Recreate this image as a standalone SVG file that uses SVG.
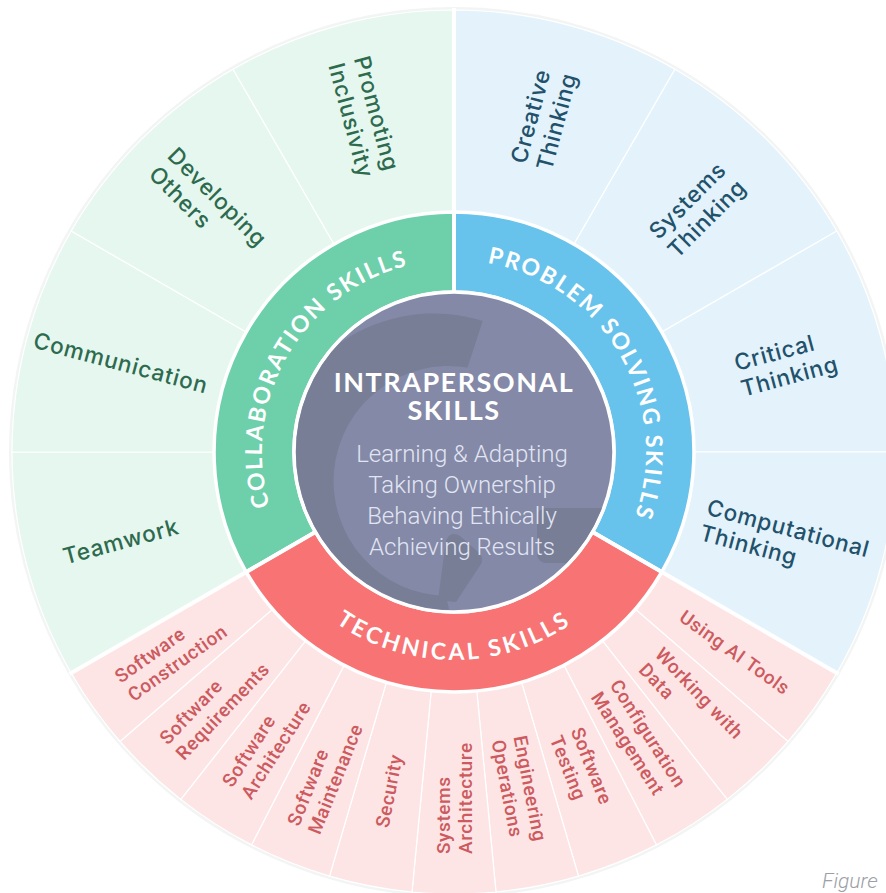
<svg xmlns="http://www.w3.org/2000/svg" width="886" height="893" viewBox="0 0 886 893">
  <style>
    .seg { stroke: #ffffff; stroke-width: 1.2; }
    .seg-g { fill: #e6f7ef; }
    .seg-b { fill: #e4f3fb; }
    .seg-r { fill: #fde5e6; }
    .ring { stroke: #ffffff; stroke-width: 3.5; }
    .ring-g { fill: #6ecfab; }
    .ring-b { fill: #68c3ec; }
    .ring-r { fill: #f87474; }
    .lbl { font-family: Inter, "Open Sans", sans-serif; font-weight: 500; font-size: 22.5px; letter-spacing: 0.8px; }
    .lbl-g { fill: #2d6a4e; }
    .lbl-b { fill: #22516b; }
    .lbl-r { font-family: Roboto, "Liberation Sans", sans-serif; font-weight: 500; font-size: 19px; letter-spacing: 0.6px; fill: #cc5a5e; }
    .ringtxt { font-family: Lato, "Liberation Sans", sans-serif; font-weight: 700; font-size: 23px; letter-spacing: 2px; fill: #ffffff; }
    .ringtxt-wide { letter-spacing: 3px; }
    .title { font-family: Lato, "Liberation Sans", sans-serif; font-weight: 700; font-size: 27px; letter-spacing: 1.5px; fill: #ffffff; }
    .list { font-family: Roboto, "Liberation Sans", sans-serif; font-weight: 300; font-size: 24px; fill: #e2e5f4; }
    .divider { stroke: #ffffff; stroke-width: 4; }
  </style>
  <defs>
    <path id="arc-collab" d="M 287.7 548 A 192 192 0 0 1 454 260"/>
    <path id="arc-problem" d="M 454 260 A 192 192 0 0 1 620.3 548"/>
    <path id="arc-tech" d="M 273.9 556 A 208 208 0 0 0 634.1 556"/>
    <clipPath id="core-clip"><circle cx="454" cy="452" r="158"/></clipPath>
  </defs>

  <rect width="886" height="893" fill="#ffffff"/>
  <circle cx="454" cy="452" r="443.5" fill="none" stroke="#f3f5f4" stroke-width="3"/>

  <!-- outer ring: collaboration skills -->
  <g id="teamwork">
    <path class="seg seg-g" d="M 71.2 673 A 442 442 0 0 1 12 452 L 215 452 A 239 239 0 0 0 247 571.5 Z"/>
    <g transform="translate(120.8 541.3) rotate(-15)"><text class="lbl lbl-g" text-anchor="middle" y="8">Teamwork</text></g>
  </g>
  <g id="communication">
    <path class="seg seg-g" d="M 12 452 A 442 442 0 0 1 71.2 231 L 247 332.5 A 239 239 0 0 0 215 452 Z"/>
    <g transform="translate(120.8 362.7) rotate(15)"><text class="lbl lbl-g" text-anchor="middle" y="8">Communication</text></g>
  </g>
  <g id="developing-others">
    <path class="seg seg-g" d="M 71.2 231 A 442 442 0 0 1 233 69.2 L 334.5 245 A 239 239 0 0 0 247 332.5 Z"/>
    <g transform="translate(210 208) rotate(45)" class="lbl lbl-g"><text x="-67" y="-5">Developing</text><text x="-67" y="21.5">Others</text></g>
  </g>
  <g id="promoting-inclusivity">
    <path class="seg seg-g" d="M 233 69.2 A 442 442 0 0 1 454 10 L 454 213 A 239 239 0 0 0 334.5 245 Z"/>
    <g transform="translate(364.7 118.8) rotate(75)" class="lbl lbl-g"><text x="-61" y="-5">Promoting</text><text x="-61" y="21.5">Inclusivity</text></g>
  </g>

  <!-- outer ring: problem solving skills -->
  <g id="creative-thinking">
    <path class="seg seg-b" d="M 454 10 A 442 442 0 0 1 675 69.2 L 573.5 245 A 239 239 0 0 0 454 213 Z"/>
    <g transform="translate(543.3 118.8) rotate(-75)" class="lbl lbl-b"><text x="-49" y="-5">Creative</text><text x="-49" y="21.5">Thinking</text></g>
  </g>
  <g id="systems-thinking">
    <path class="seg seg-b" d="M 675 69.2 A 442 442 0 0 1 836.8 231 L 661 332.5 A 239 239 0 0 0 573.5 245 Z"/>
    <g transform="translate(698 208) rotate(-45)" class="lbl lbl-b"><text x="-51" y="-5">Systems</text><text x="-51" y="21.5">Thinking</text></g>
  </g>
  <g id="critical-thinking">
    <path class="seg seg-b" d="M 836.8 231 A 442 442 0 0 1 896 452 L 693 452 A 239 239 0 0 0 661 332.5 Z"/>
    <g transform="translate(787.2 362.7) rotate(-15)" class="lbl lbl-b"><text x="-51" y="-5">Critical</text><text x="-51" y="21.5">Thinking</text></g>
  </g>
  <g id="computational-thinking">
    <path class="seg seg-b" d="M 896 452 A 442 442 0 0 1 836.8 673 L 661 571.5 A 239 239 0 0 0 693 452 Z"/>
    <g transform="translate(787.2 541.3) rotate(15)" class="lbl lbl-b"><text x="-86" y="-5">Computational</text><text x="-86" y="21.5">Thinking</text></g>
  </g>

  <!-- outer ring: technical skills -->
  <g id="using-ai-tools">
    <path class="seg seg-r" d="M 836.8 673 A 442 442 0 0 1 788 741.5 L 634.6 608.5 A 239 239 0 0 0 661 571.5 Z"/>
    <g transform="translate(735 652.1) rotate(35.455)"><text class="lbl-r" text-anchor="middle" y="7">Using AI Tools</text></g>
  </g>
  <g id="working-with-data">
    <path class="seg seg-r" d="M 788 741.5 A 442 442 0 0 1 727.2 799.4 L 601.7 639.9 A 239 239 0 0 0 634.6 608.5 Z"/>
    <g transform="translate(692.1 701.7) rotate(46.364)" class="lbl-r"><text x="-60" y="-4.5">Working with</text><text x="-60" y="18">Data</text></g>
  </g>
  <g id="configuration-management">
    <path class="seg seg-r" d="M 727.2 799.4 A 442 442 0 0 1 656.5 844.9 L 563.5 664.4 A 239 239 0 0 0 601.7 639.9 Z"/>
    <g transform="translate(640.5 742.2) rotate(57.273)" class="lbl-r"><text x="-65" y="-4.5">Configuration</text><text x="-65" y="18">Management</text></g>
  </g>
  <g id="software-testing">
    <path class="seg seg-r" d="M 656.5 844.9 A 442 442 0 0 1 578.5 876.1 L 521.3 681.3 A 239 239 0 0 0 563.5 664.4 Z"/>
    <g transform="translate(582.2 772.3) rotate(68.182)" class="lbl-r"><text x="-43" y="-4.5">Software</text><text x="-43" y="18">Testing</text></g>
  </g>
  <g id="engineering-operations">
    <path class="seg seg-r" d="M 578.5 876.1 A 442 442 0 0 1 496 892 L 476.7 689.9 A 239 239 0 0 0 521.3 681.3 Z"/>
    <g transform="translate(519.3 790.8) rotate(79.091)" class="lbl-r"><text x="-54" y="-4.5">Engineering</text><text x="-54" y="18">Operations</text></g>
  </g>
  <g id="systems-architecture">
    <path class="seg seg-r" d="M 496 892 A 442 442 0 0 1 412 892 L 431.3 689.9 A 239 239 0 0 0 476.7 689.9 Z"/>
    <g transform="translate(454 797) rotate(-90)" class="lbl-r"><text x="-57" y="-4.5">Systems</text><text x="-57" y="18">Architecture</text></g>
  </g>
  <g id="security">
    <path class="seg seg-r" d="M 412 892 A 442 442 0 0 1 329.5 876.1 L 386.7 681.3 A 239 239 0 0 0 431.3 689.9 Z"/>
    <g transform="translate(388.7 790.8) rotate(-79.091)"><text class="lbl-r" text-anchor="middle" y="7">Security</text></g>
  </g>
  <g id="software-maintenance">
    <path class="seg seg-r" d="M 329.5 876.1 A 442 442 0 0 1 251.5 844.9 L 344.5 664.4 A 239 239 0 0 0 386.7 681.3 Z"/>
    <g transform="translate(325.8 772.3) rotate(-68.182)" class="lbl-r"><text x="-61" y="-4.5">Software</text><text x="-61" y="18">Maintenance</text></g>
  </g>
  <g id="software-architecture">
    <path class="seg seg-r" d="M 251.5 844.9 A 442 442 0 0 1 180.8 799.4 L 306.3 639.9 A 239 239 0 0 0 344.5 664.4 Z"/>
    <g transform="translate(267.5 742.2) rotate(-57.273)" class="lbl-r"><text x="-58" y="-4.5">Software</text><text x="-58" y="18">Architecture</text></g>
  </g>
  <g id="software-requirements">
    <path class="seg seg-r" d="M 180.8 799.4 A 442 442 0 0 1 120 741.5 L 273.4 608.5 A 239 239 0 0 0 306.3 639.9 Z"/>
    <g transform="translate(215.9 701.7) rotate(-46.364)" class="lbl-r"><text x="-65" y="-4.5">Software</text><text x="-65" y="18">Requirements</text></g>
  </g>
  <g id="software-construction">
    <path class="seg seg-r" d="M 120 741.5 A 442 442 0 0 1 71.2 673 L 247 571.5 A 239 239 0 0 0 273.4 608.5 Z"/>
    <g transform="translate(173 652.1) rotate(-35.455)" class="lbl-r"><text x="-61" y="-4.5">Software</text><text x="-61" y="18">Construction</text></g>
  </g>

  <!-- middle ring: skill groups -->
  <g id="collaboration-skills">
    <path class="ring ring-g" d="M 246.2 572 A 240 240 0 0 1 454 212 L 454 292 A 160 160 0 0 0 315.4 532 Z"/>
    <text class="ringtxt"><textPath href="#arc-collab" startOffset="50%" text-anchor="middle">COLLABORATION SKILLS</textPath></text>
  </g>
  <g id="problem-solving-skills">
    <path class="ring ring-b" d="M 454 212 A 240 240 0 0 1 661.8 572 L 592.6 532 A 160 160 0 0 0 454 292 Z"/>
    <text class="ringtxt"><textPath href="#arc-problem" startOffset="50%" text-anchor="middle">PROBLEM SOLVING SKILLS</textPath></text>
  </g>
  <g id="technical-skills">
    <path class="ring ring-r" d="M 661.8 572 A 240 240 0 0 1 246.2 572 L 315.4 532 A 160 160 0 0 0 592.6 532 Z"/>
    <text class="ringtxt ringtxt-wide"><textPath href="#arc-tech" startOffset="50%" text-anchor="middle">TECHNICAL SKILLS</textPath></text>
  </g>

  <!-- group separators -->
  <g id="dividers">
    <line class="divider" x1="454" y1="294" x2="454" y2="8"/>
    <line class="divider" x1="590.8" y1="531" x2="838.5" y2="674"/>
    <line class="divider" x1="317.2" y1="531" x2="69.5" y2="674"/>
  </g>

  <!-- core: intrapersonal skills, with a faint logo mark behind the text -->
  <g id="intrapersonal-skills">
    <circle cx="454" cy="452" r="160" fill="#8389a6" stroke="#ffffff" stroke-width="3.5"/>
    <g clip-path="url(#core-clip)" fill="#777e95">
      <path d="M 482.7 321 A 164 164 0 1 0 456 640 L 446 596 A 115 115 0 1 1 467.5 367.6 Z"/>
      <path d="M 438 600 L 446 541 Q 450 530 460 536 L 478 552 Q 486 559 479 567 L 456 602 Z"/>
      <rect x="537" y="508" width="110" height="55" rx="9"/>
    </g>
    <text class="title" x="454" y="392" text-anchor="middle">INTRAPERSONAL</text>
    <text class="title" x="454" y="420" text-anchor="middle">SKILLS</text>
    <text class="list" x="462" y="462" text-anchor="middle">Learning &amp; Adapting</text>
    <text class="list" x="462" y="493" text-anchor="middle">Taking Ownership</text>
    <text class="list" x="462" y="524" text-anchor="middle">Behaving Ethically</text>
    <text class="list" x="462" y="555" text-anchor="middle">Achieving Results</text>
  </g>

  <text x="822" y="888" font-family="Roboto, 'Liberation Sans', sans-serif" font-style="italic" font-weight="300" font-size="21" fill="#9ba0a6">Figure</text>
</svg>
